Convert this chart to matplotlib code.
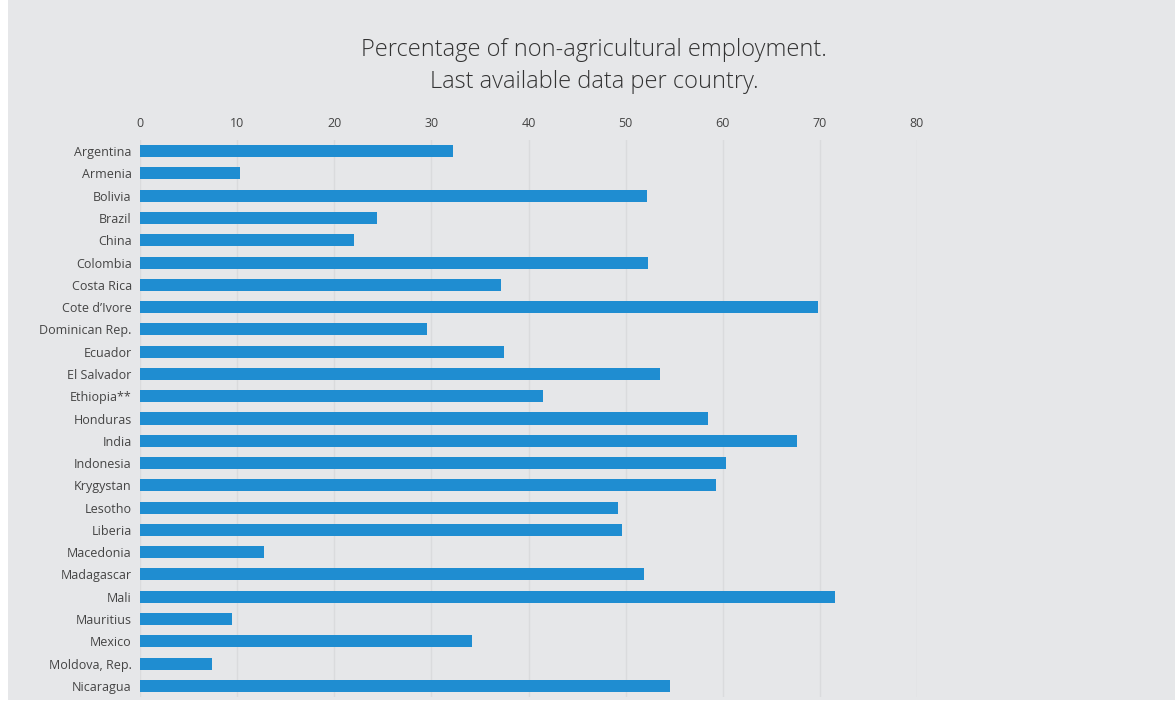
import matplotlib
matplotlib.use("Agg")
import matplotlib.pyplot as plt
from matplotlib.patches import Rectangle

countries = ["Argentina", "Armenia", "Bolivia", "Brazil", "China", "Colombia",
             "Costa Rica", "Cote d\u2019Ivore", "Dominican Rep.", "Ecuador",
             "El Salvador", "Ethiopia**", "Honduras", "India", "Indonesia",
             "Krygystan", "Lesotho", "Liberia", "Macedonia", "Madagascar",
             "Mali", "Mauritius", "Mexico", "Moldova, Rep.", "Nicaragua"]
values = [32.2, 10.3, 52.2, 24.4, 22.0, 52.3, 37.2, 69.8, 29.5, 37.5,
          53.5, 41.5, 58.5, 67.6, 60.3, 59.3, 49.2, 49.6, 12.8, 51.9,
          71.6, 9.5, 34.2, 7.4, 54.6]
xticks = [0, 10, 20, 30, 40, 50, 60, 70, 80]

plt.rcParams['font.family'] = ['Open Sans', 'DejaVu Sans']

W, H = 1175, 706
fig = plt.figure(figsize=(W / 100, H / 100), dpi=100, facecolor="white")
bg = "#e6e7e9"
fig.patches.append(Rectangle((8 / W, 6 / H), 1 - 8 / W, 1 - 6 / H,
                             transform=fig.transFigure, facecolor=bg,
                             edgecolor="none", zorder=-10))

ax = fig.add_axes([140 / W, 1 - 697 / H, (917 - 140) / W, (697 - 140) / H])
ax.set_zorder(1)
ax.patch.set_alpha(0)

ypos = list(range(len(countries)))
ax.barh(ypos, values, height=0.54, color="#1f8dd1", zorder=3)
ax.set_ylim(len(countries) - 0.5, -0.5)
ax.set_xlim(0, 80)
ax.set_yticks(ypos)
ax.set_yticklabels(countries)
ax.set_xticks(xticks)
ax.xaxis.tick_top()
ax.tick_params(axis="both", length=0, labelsize=9, labelcolor="#444444")
ax.tick_params(axis="x", pad=7)
ax.tick_params(axis="y", pad=6)
ax.grid(axis="x", color="#dadbdd", linewidth=1, zorder=1)
for s in ax.spines.values():
    s.set_visible(False)

fig.text(594 / W, 1 - 50 / H, "Percentage of non-agricultural employment.",
         ha="center", va="center", fontsize=17, color="#333333",
         fontweight="light")
fig.text(594 / W, 1 - 82 / H, "Last available data per country.",
         ha="center", va="center", fontsize=17, color="#333333",
         fontweight="light")

fig.savefig("out.png", dpi=100, facecolor="white")
